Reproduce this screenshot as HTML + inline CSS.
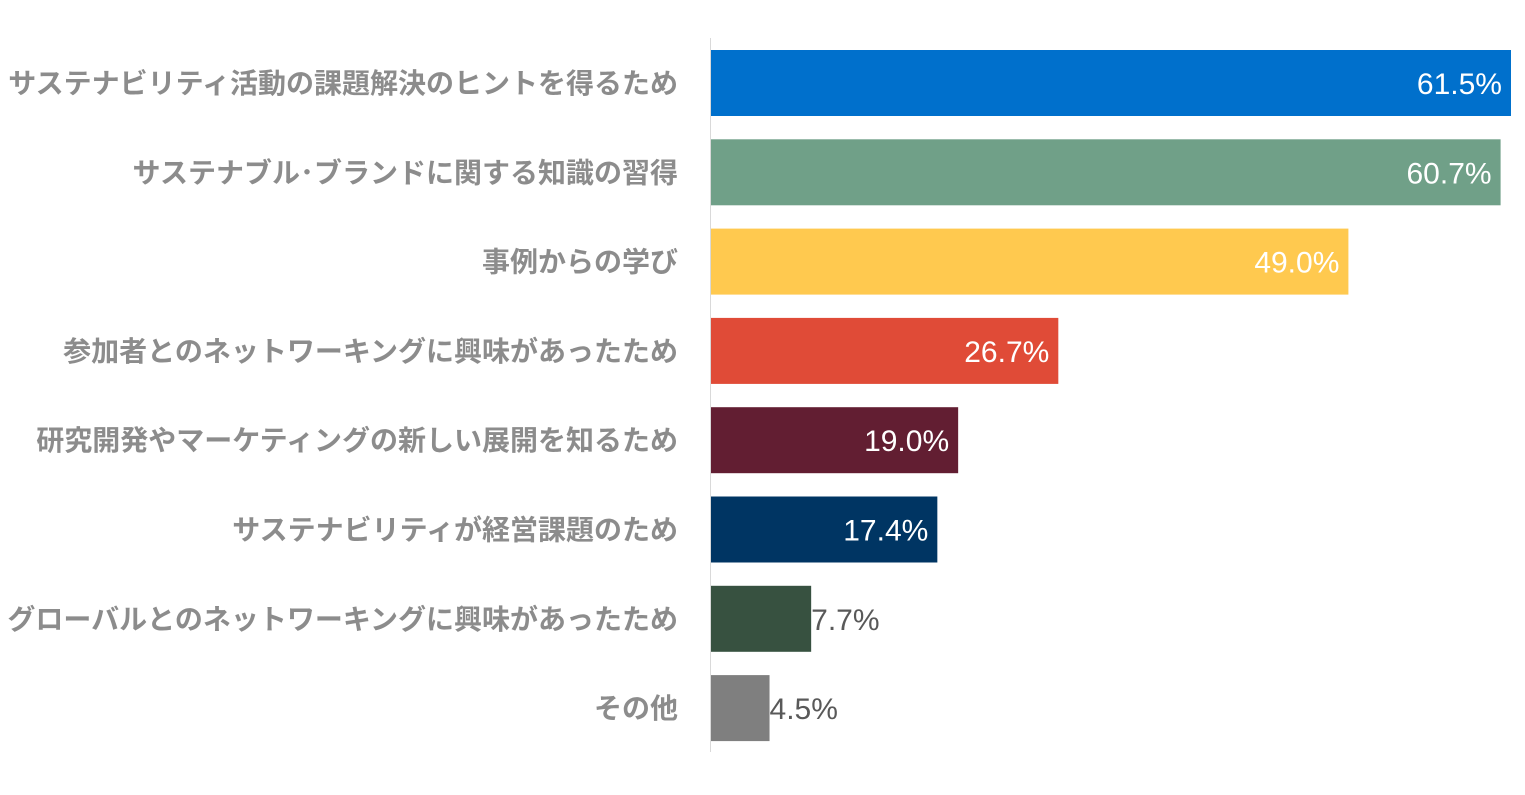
<!DOCTYPE html>
<html><head><meta charset="utf-8"><style>
body{margin:0;width:1525px;height:790px;background:#fff;overflow:hidden;font-family:"Liberation Sans","Noto Sans CJK JP",sans-serif;}
svg text{font-family:"Liberation Sans","Noto Sans CJK JP",sans-serif;}
</style></head><body>
<svg id="chart" width="1525" height="790" xmlns="http://www.w3.org/2000/svg"></svg>
<script>
const categories=["サステナビリティ活動の課題解決のヒントを得るため","サステナブル･ブランドに関する知識の習得","事例からの学び","参加者とのネットワーキングに興味があったため","研究開発やマーケティングの新しい展開を知るため","サステナビリティが経営課題のため","グローバルとのネットワーキングに興味があったため","その他"];
const values=[61.5,60.7,49.0,26.7,19.0,17.4,7.7,4.5];
const valueLabels=["61.5%","60.7%","49.0%","26.7%","19.0%","17.4%","7.7%","4.5%"];
const colors=["#0070CC","#70A088","#FFC94F","#E04B37","#621E32","#003563","#375140","#7F7F7F"];
const svg=document.getElementById('chart');
const NS="http://www.w3.org/2000/svg";
const x0=711, pxPer=800/61.5;
const xScale=v=>x0+v*pxPer;
const yTop=i=>50+i*89.3, barH=66;
const axis=document.createElementNS(NS,'line');
axis.setAttribute('x1',710.5);axis.setAttribute('x2',710.5);axis.setAttribute('y1',38);axis.setAttribute('y2',752);
axis.setAttribute('stroke','#d9d9d9');axis.setAttribute('stroke-width','1');


svg.appendChild(axis);
categories.forEach((c,i)=>{
  const y=yTop(i), w=xScale(values[i])-x0;
  const r=document.createElementNS(NS,'rect');
  r.setAttribute('x',x0);r.setAttribute('y',y);r.setAttribute('width',w);r.setAttribute('height',barH);r.setAttribute('fill',colors[i]);
  
  
  svg.appendChild(r);
  const t=document.createElementNS(NS,'text');
  t.setAttribute('x',678);t.setAttribute('y',y+barH/2+10);t.setAttribute('text-anchor','end');
  t.setAttribute('font-size','28');t.setAttribute('font-weight','bold');t.setAttribute('fill','#8c8c8c');
  t.textContent=c;
  
  
  svg.appendChild(t);
  const v=document.createElementNS(NS,'text');
  const inside=w>150;
  v.setAttribute('x',inside?x0+w-9:x0+w);v.setAttribute('y',y+barH/2+11);
  v.setAttribute('text-anchor',inside?'end':'start');
  v.setAttribute('font-size','30');v.setAttribute('fill',inside?'#ffffff':'#595959');
  v.textContent=valueLabels[i];
  
  
  svg.appendChild(v);
});
</script>
</body></html>
